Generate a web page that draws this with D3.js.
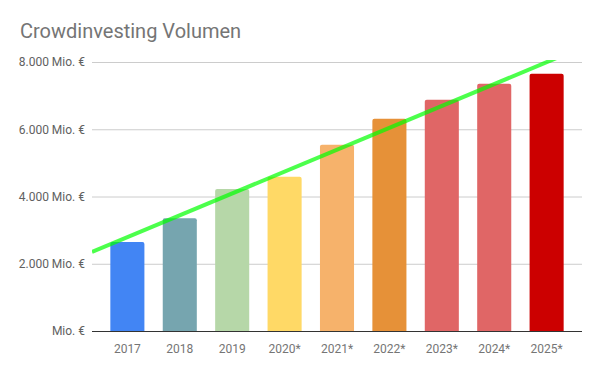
<!DOCTYPE html>
<html><head><meta charset="utf-8">
<script src="https://cdn.jsdelivr.net/npm/d3@7"></script>
<style>body{margin:0;background:#fff}svg{display:block;font-family:Roboto,sans-serif}</style>
</head><body><svg id="c" width="600" height="371"></svg>
<script>
const categories = ["2017","2018","2019","2020*","2021*","2022*","2023*","2024*","2025*"];
const values = [2650, 3350, 4220, 4590, 5540, 6310, 6875, 7350, 7650];
const colors = ["#4285f4","#76a5af","#b6d7a8","#ffd966","#f6b26b","#e69138","#e06666","#e06666","#cc0000"];
const yTicks = [0, 2000, 4000, 6000, 8000];
const title = "Crowdinvesting Volumen";

const svg = d3.select("#c");
const m = {l:92, r:582, t:62, b:331};
const x = d3.scaleBand().domain(categories).range([m.l, m.r]).paddingInner(0.35).paddingOuter(0.35);
const y = d3.scaleLinear().domain([0, 8000]).range([m.b, m.t]);

svg.append("text").attr("x", 20).attr("y", 38).attr("fill", "#757575")
  .style("font-size", "20px").text(title);

const fmt = v => (v === 0 ? "" : d3.format(",")(v).replace(/,/g, ".") + " ") + "Mio. €";
const ya = svg.append("g").attr("transform", `translate(${m.l},0)`)
  .call(d3.axisLeft(y).tickValues(yTicks).tickSize(-(m.r - m.l)).tickPadding(7).tickFormat(fmt));
ya.select(".domain").remove();
ya.selectAll(".tick line").attr("stroke", "#cccccc");
ya.selectAll(".tick text").attr("fill", "#616161").style("font-size", "12px").style("font-family", "Roboto,sans-serif");

const r = 2;
svg.append("g").selectAll("path").data(values).join("path")
  .attr("fill", (d, i) => colors[i])
  .attr("d", (d, i) => {
    const x0 = x(categories[i]), w = x.bandwidth(), y0 = y(d), yb = y(0);
    return `M${x0},${yb}V${y0 + r}Q${x0},${y0} ${x0 + r},${y0}H${x0 + w - r}Q${x0 + w},${y0} ${x0 + w},${y0 + r}V${yb}Z`;
  });

// baseline
const xa = svg.append("g").attr("transform", `translate(0,${m.b})`)
  .call(d3.axisBottom(x).tickSize(0).tickPadding(13));
xa.select(".domain").attr("stroke", "#333333").attr("d", `M${m.l},0.5H${m.r}`);
xa.selectAll(".tick text").attr("fill", "#757575").style("font-size", "12px").style("font-family", "Roboto,sans-serif");

// linear trendline (least squares on the values)
const n = values.length, xs = d3.range(n);
const mx = d3.mean(xs), my = d3.mean(values);
const slope = d3.sum(xs, i => (i - mx) * (values[i] - my)) / d3.sum(xs, i => (i - mx) * (i - mx));
const icpt = my - slope * mx;
const cx = i => x(categories[0]) + x.bandwidth() / 2 + i * x.step();
const ix = px => (px - cx(0)) / x.step();
svg.append("clipPath").attr("id", "clip").append("rect")
  .attr("x", m.l).attr("y", m.t - 2).attr("width", m.r - m.l).attr("height", m.b - m.t + 2);
const i0 = ix(m.l), i1 = ix(m.r);
svg.append("line").attr("clip-path", "url(#clip)")
  .attr("x1", m.l).attr("y1", y(icpt + slope * i0))
  .attr("x2", m.r).attr("y2", y(icpt + slope * i1))
  .attr("stroke", "#00ff00").attr("stroke-opacity", 0.7).attr("stroke-width", 4);
</script></body></html>
